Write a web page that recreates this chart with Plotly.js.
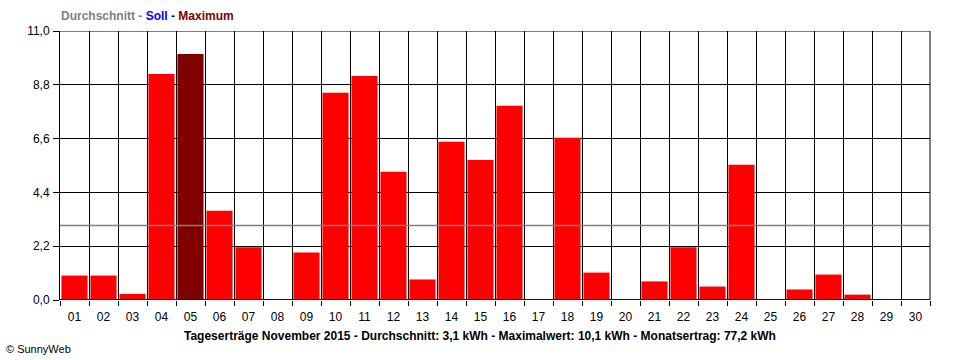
<!DOCTYPE html>
<html>
<head>
<meta charset="utf-8">
<script src="https://cdn.plot.ly/plotly-3.0.1.min.js"></script>
<style>html,body{margin:0;padding:0;background:#fff;}#chart{width:960px;height:360px;}</style>
</head>
<body>
<div id="chart"></div>
<script>
const days = ["01","02","03","04","05","06","07","08","09","10","11","12","13","14","15","16","17","18","19","20","21","22","23","24","25","26","27","28","29","30"];
const yields = [1.0,1.0,0.25,9.24,10.06,3.65,2.16,0,1.94,8.47,9.16,5.24,0.84,6.47,5.73,7.94,0,6.63,1.12,0,0.76,2.16,0.55,5.53,0,0.43,1.04,0.22,0,0];
const average = 3.05;
const target = 0;
const yTickVals = [0,2.2,4.4,6.6,8.8,11];
const yTickText = ["0,0","2,2","4,4","6,6","8,8","11,0"];
const titleText = "Tageserträge November 2015 - Durchschnitt: 3,1 kWh - Maximalwert: 10,1 kWh - Monatsertrag: 77,2 kWh";

const maxVal = Math.max(...yields);
const colors = yields.map(v => v === maxVal ? "#800000" : "#FF0000");
const font = "Liberation Sans, Arial, sans-serif";

const data = [{
  type: "bar", x: days, y: yields,
  marker: {color: colors, line: {width: 0}},
  hoverinfo: "x+y"
}];

const layout = {
  width: 960, height: 360,
  margin: {l: 60, r: 30, t: 31, b: 60, pad: 0},
  paper_bgcolor: "#fff", plot_bgcolor: "#fff",
  showlegend: false,
  bargap: 0.1,
  font: {family: font, size: 11, color: "#000"},
  xaxis: {
    type: "category", tickson: "boundaries",
    showgrid: true, gridcolor: "#000", gridwidth: 1,
    ticks: "outside", ticklen: 5, tickcolor: "#000", tickwidth: 1,
    ticklabelstandoff: 8,
    showline: false, zeroline: false,
    tickfont: {family: font, size: 12, color: "#000"},
    range: [-0.5, 29.5], fixedrange: true
  },
  yaxis: {
    range: [0, 11], tickvals: yTickVals, ticktext: yTickText,
    showgrid: true, gridcolor: "#000", gridwidth: 1,
    ticks: "outside", ticklen: 6, tickcolor: "#000", tickwidth: 1,
    showline: true, linecolor: "#000", linewidth: 1,
    zeroline: false, ticklabelstandoff: 1,
    tickfont: {family: font, size: 12, color: "#000"}, fixedrange: true
  },
  shapes: [
    {type: "line", xref: "paper", x0: 0, x1: 1, yref: "y", y0: average, y1: average,
     line: {color: "#808080", width: 1.5}, layer: "above"},
    {type: "line", xref: "paper", x0: 0, x1: 1, yref: "y", y0: target, y1: target,
     line: {color: "#000090", width: 2}, layer: "above"},
    {type: "line", xref: "paper", x0: 1, x1: 1, yref: "y", y0: 0, y1: 11,
     line: {color: "#000", width: 1}, layer: "below"},
    {type: "line", xref: "paper", x0: 0, x1: 1, yref: "y", y0: 11, y1: 11,
     line: {color: "#000", width: 1}, layer: "below"}
  ],
  annotations: [
    {xref: "paper", yref: "paper", x: (480-60)/870, y: (300-336)/269, xanchor: "center", yanchor: "middle",
     text: "<b>" + titleText + "</b>", showarrow: false,
     font: {family: font, size: 12, color: "#000"}},
    {xref: "paper", yref: "paper", x: -1/870, y: (300-16)/269, xanchor: "left", yanchor: "middle",
     text: "<b><span style='color:#808080'>Durchschnitt - </span><span style='color:#0000FF'>Soll - </span><span style='color:#800000'>Maximum</span></b>",
     showarrow: false, font: {family: font, size: 12}},
    {xref: "paper", yref: "paper", x: -56/870, y: (300-349)/269, xanchor: "left", yanchor: "middle",
     text: "© SunnyWeb", showarrow: false, font: {family: font, size: 11, color: "#000"}}
  ]
};

Plotly.newPlot("chart", data, layout, {staticPlot: true, displayModeBar: false});
</script>
</body>
</html>
